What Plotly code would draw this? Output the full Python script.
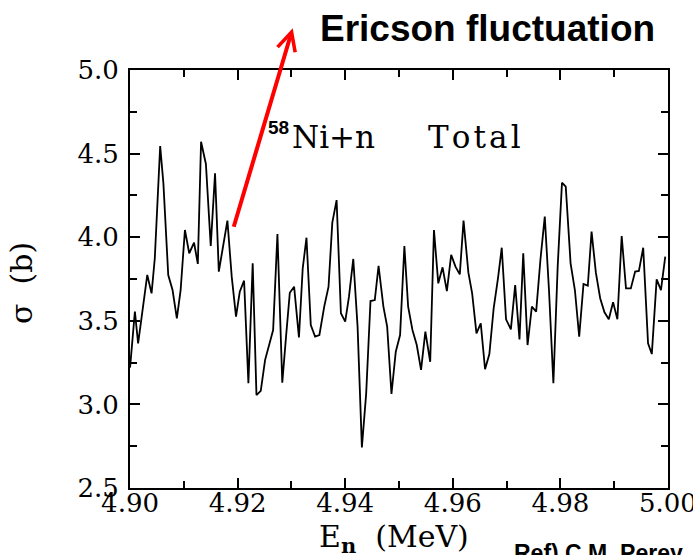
import plotly.graph_objects as go

energy_mev = [
    4.9000, 4.9009, 4.9015, 4.9025, 4.9032, 4.9040, 4.9046, 4.9056, 4.9062, 4.9071,
    4.9079, 4.9087, 4.9094, 4.9102, 4.9110, 4.9119, 4.9126, 4.9132, 4.9141, 4.9150,
    4.9158, 4.9165, 4.9181, 4.9189, 4.9197, 4.9204, 4.9212, 4.9220, 4.9228, 4.9235,
    4.9243, 4.9251, 4.9266, 4.9274, 4.9283, 4.9290, 4.9297, 4.9305, 4.9314, 4.9321,
    4.9328, 4.9336, 4.9344, 4.9352, 4.9361, 4.9369, 4.9376, 4.9384, 4.9392, 4.9400,
    4.9407, 4.9415, 4.9423, 4.9431, 4.9439, 4.9447, 4.9455, 4.9462, 4.9471, 4.9478,
    4.9486, 4.9494, 4.9502, 4.9510, 4.9517, 4.9525, 4.9533, 4.9541, 4.9549, 4.9558,
    4.9565, 4.9573, 4.9581, 4.9589, 4.9597, 4.9605, 4.9613, 4.9620, 4.9629, 4.9636,
    4.9644, 4.9652, 4.9660, 4.9668, 4.9676, 4.9684, 4.9691, 4.9699, 4.9708, 4.9716,
    4.9724, 4.9731, 4.9739, 4.9747, 4.9755, 4.9763, 4.9771, 4.9779, 4.9787, 4.9795,
    4.9803, 4.9810, 4.9819, 4.9827, 4.9835, 4.9843, 4.9851, 4.9858, 4.9866, 4.9874,
    4.9882, 4.9890, 4.9898, 4.9906, 4.9914, 4.9922, 4.9931, 4.9939, 4.9946, 4.9954,
    4.9963, 4.9970, 4.9979, 4.9987, 4.9995,
]

sigma_b = [
    3.220, 3.555, 3.365, 3.605, 3.774, 3.664, 3.874, 4.545, 4.322, 3.774,
    3.684, 3.515, 3.684, 4.043, 3.904, 3.967, 3.840, 4.571, 4.438, 3.947,
    4.382, 3.794, 4.099, 3.764, 3.525, 3.674, 3.740, 3.126, 3.844, 3.056,
    3.081, 3.265, 3.445, 4.019, 3.130, 3.405, 3.668, 3.704, 3.401, 3.814,
    3.997, 3.475, 3.405, 3.415, 3.585, 3.704, 4.087, 4.222, 3.545, 3.495,
    3.644, 3.870, 3.465, 2.743, 3.066, 3.618, 3.624, 3.828, 3.585, 3.465,
    3.062, 3.315, 3.415, 3.947, 3.585, 3.445, 3.355, 3.206, 3.435, 3.255,
    4.043, 3.724, 3.820, 3.678, 3.894, 3.824, 3.778, 4.099, 3.788, 3.664,
    3.425, 3.485, 3.210, 3.301, 3.575, 3.754, 3.937, 3.509, 3.449, 3.714,
    3.389, 3.904, 3.355, 3.585, 3.555, 3.868, 4.123, 3.674, 3.126, 3.824,
    4.326, 4.302, 3.844, 3.684, 3.405, 3.720, 3.710, 4.033, 3.788, 3.635,
    3.551, 3.509, 3.611, 3.509, 4.007, 3.694, 3.694, 3.794, 3.798, 3.937,
    3.365, 3.301, 3.748, 3.684, 3.884,
]

x_tick_values = [4.90, 4.92, 4.94, 4.96, 4.98, 5.00]
x_tick_labels = ["4.90", "4.92", "4.94", "4.96", "4.98", "5.00"]
x_minor_values = [4.91, 4.93, 4.95, 4.97, 4.99]
y_tick_values = [2.5, 3.0, 3.5, 4.0, 4.5, 5.0]
y_tick_labels = ["2.5", "3.0", "3.5", "4.0", "4.5", "5.0"]
y_minor_values = [2.75, 3.25, 3.75, 4.25, 4.75]

x_range = [4.89999, 5.00001]
y_range = [2.49999, 5.00001]

SERIF = "DejaVu Serif"
SANS = "Liberation Sans, Arial"
TICK_COLOR = "black"

fig = go.Figure()
fig.add_trace(go.Scatter(
    x=energy_mev, y=sigma_b, mode="lines",
    line=dict(color="black", width=1.8),
    showlegend=False, hoverinfo="skip",
))
fig.add_trace(go.Scatter(
    x=energy_mev, y=sigma_b, mode="lines", xaxis="x2", yaxis="y2",
    line=dict(color="rgba(0,0,0,0)", width=0),
    showlegend=False, hoverinfo="skip",
))

tick_common = dict(
    showline=True, linecolor="black", linewidth=2,
    ticks="inside", ticklen=10, tickwidth=2, tickcolor=TICK_COLOR,
    showgrid=False, zeroline=False, layer="above traces", automargin=False,
    tickfont=dict(family=SERIF, size=26, color="black"),
)

x_minor = dict(tickmode="array", tickvals=x_minor_values, ticklen=7, tickwidth=2,
               ticks="inside", tickcolor=TICK_COLOR, showgrid=False)
y_minor = dict(tickmode="array", tickvals=y_minor_values, ticklen=7, tickwidth=2,
               ticks="inside", tickcolor=TICK_COLOR, showgrid=False)

fig.update_layout(
    width=693, height=555,
    margin=dict(l=130, r=25, t=70, b=67, autoexpand=False),
    paper_bgcolor="white", plot_bgcolor="white",
    xaxis=dict(range=x_range, tickmode="array", tickvals=x_tick_values,
               ticktext=x_tick_labels, minor=x_minor, ticklabelstandoff=-9,
               ticklabeloverflow="allow", **tick_common),
    yaxis=dict(range=y_range, tickmode="array", tickvals=y_tick_values,
               ticktext=y_tick_labels, minor=y_minor, ticklabelstandoff=4,
               ticklabeloverflow="allow", **tick_common),
    xaxis2=dict(range=x_range, overlaying="x", side="top", anchor="y",
                tickmode="array", tickvals=x_tick_values, showticklabels=False,
                minor=x_minor, **tick_common),
    yaxis2=dict(range=y_range, overlaying="y", side="right", anchor="x",
                tickmode="array", tickvals=y_tick_values, showticklabels=False,
                minor=y_minor, **tick_common),
)

annotations = [
    dict(text="E<sub><b>n</b></sub>  (MeV)", xref="paper", yref="paper",
         x=0.49, y=-0.07, xanchor="center", yanchor="top", showarrow=False,
         font=dict(family=SERIF, size=30, color="black")),
    dict(text="σ  (b)", xref="paper", yref="paper", textangle=-90,
         x=-0.203, y=0.49, xanchor="center", yanchor="middle", showarrow=False,
         font=dict(family=SERIF, size=30, color="black")),
    dict(text="<b>58</b>", xref="paper", yref="paper",
         x=0.253, y=0.862, xanchor="left", yanchor="middle", showarrow=False,
         font=dict(family=SANS, size=19, color="black")),
    dict(text="Ni+n", xref="paper", yref="paper",
         x=0.297, y=0.84, xanchor="left", yanchor="middle", showarrow=False,
         font=dict(family=SERIF, size=31, color="black")),
    dict(text="T\u200ao\u200at\u200aa\u200al", xref="paper", yref="paper",
         x=0.551, y=0.84, xanchor="left", yanchor="middle", showarrow=False,
         font=dict(family=SERIF, size=31, color="black")),
    dict(text="<b>Ericson fluctuation</b>", xref="paper", yref="paper",
         x=(318 - 130) / 538, y=(488 - 28) / 418, xanchor="left", yanchor="middle",
         showarrow=False, font=dict(family=SANS, size=37, color="black")),
    dict(text="<b>Ref) C.M. Perey</b>", xref="paper", yref="paper",
         x=(512 - 130) / 538, y=(488 - 538) / 418, xanchor="left", yanchor="top",
         showarrow=False, font=dict(family=SANS, size=23, color="black")),
    dict(text="", xref="paper", yref="paper",
         x=(292.7 - 130) / 538, y=(488 - 28.3) / 418,
         axref="pixel", ayref="pixel", ax=-59.4, ay=200,
         showarrow=True, arrowhead=5, arrowsize=0.9, arrowwidth=4,
         arrowcolor="#ff0000", standoff=0, startstandoff=0),
]
fig.update_layout(annotations=annotations)

fig.write_html("out.html")
